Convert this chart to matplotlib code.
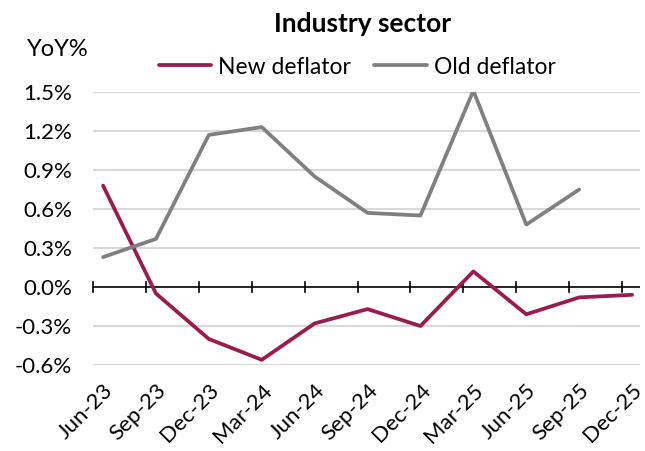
import matplotlib.pyplot as plt
import matplotlib.transforms as mtransforms
import numpy as np

plt.rcParams['font.family'] = ['Lato', 'DejaVu Sans']

quarters = ['Jun-23', 'Sep-23', 'Dec-23', 'Mar-24', 'Jun-24', 'Sep-24',
            'Dec-24', 'Mar-25', 'Jun-25', 'Sep-25', 'Dec-25']
new_deflator = [0.78, -0.05, -0.40, -0.56, -0.28, -0.17, -0.30, 0.12, -0.21, -0.08, -0.06]
old_deflator = [0.23, 0.37, 1.17, 1.23, 0.85, 0.57, 0.55, 1.51, 0.48, 0.75, np.nan]
yticks = [-0.6, -0.3, 0.0, 0.3, 0.6, 0.9, 1.2, 1.5]

fig = plt.figure(figsize=(6.45, 4.51), dpi=100)
ax = fig.add_axes([93/645, 1-365/451, (640-93)/645, (365-92)/451])

off = 0.19
x = np.arange(len(quarters)) + off

ax.plot(x, new_deflator, color='#9B1B4E', lw=2.7, label='New deflator', solid_capstyle='round')
ax.plot(x, old_deflator, color='#808080', lw=2.7, label='Old deflator', solid_capstyle='round')

ax.set_ylim(-0.6, 1.5)
ax.set_xlim(0, 10.34)
ax.set_yticks(yticks)
ax.set_yticklabels([f'{v:.1f}%' for v in yticks], fontsize=16)
for v in yticks:
    if v != 0:
        ax.axhline(v, color='#D9D9D9', lw=1.5, zorder=0)
ax.axhline(0, color='black', lw=1.2, zorder=1)
# category boundary ticks crossing the zero line
for i in range(len(quarters)):
    ax.plot([i, i], [-0.035, 0.035], color='black', lw=1.2, zorder=1, clip_on=False)

ax.set_xticks(x)
ax.set_xticklabels(quarters, rotation=45, ha='right', va='top', rotation_mode='anchor', fontsize=16)
shift = mtransforms.ScaledTranslation(-8/72, 3/72, fig.dpi_scale_trans)
for lbl in ax.get_xticklabels():
    lbl.set_transform(lbl.get_transform() + shift)
ax.tick_params(axis='both', length=0)
ax.tick_params(axis='x', pad=11)
ax.tick_params(axis='y', pad=15)
for s in ax.spines.values():
    s.set_visible(False)

fig.text(363/645, 1-24/451, 'Industry sector', ha='center', va='center', fontsize=19, fontweight='bold')
fig.text(58/645, 1-50/451, 'YoY%', ha='center', va='center', fontsize=17)
fig.legend(loc='center', bbox_to_anchor=(357/645, 1-67/451), ncol=2, frameon=False,
           fontsize=16.5, handlelength=2.3, handletextpad=0.3, columnspacing=1.0,
           borderpad=0, borderaxespad=0)

fig.savefig('out.png', dpi=100)
